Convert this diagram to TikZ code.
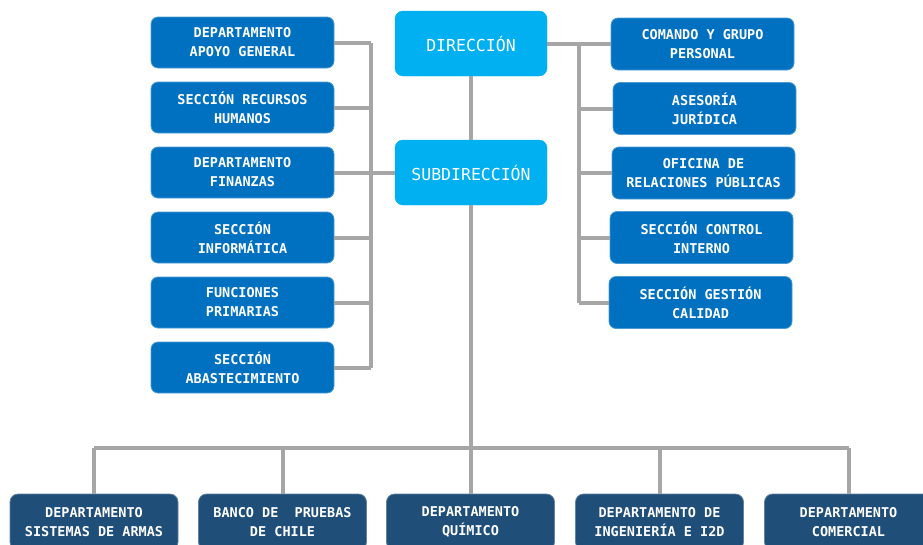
\documentclass[tikz,border=0pt]{standalone}
\usepackage{fontspec}
\setmainfont{DejaVu Sans Mono}
\newfontfamily\djm{DejaVu Sans Mono}
\definecolor{boxblue}{HTML}{0070C0}
\definecolor{topblue}{HTML}{00B0F0}
\definecolor{darkblue}{HTML}{1F4E79}
\definecolor{linegray}{HTML}{A6A6A6}
\tikzset{
  unit/.style={rounded corners=7pt, fill=boxblue, draw=boxblue!70!white, line width=0.8pt,
    text=white, align=center, minimum width=183pt, minimum height=51pt, inner sep=0pt,
    font=\djm\bfseries\fontsize{13.5}{19}\selectfont},
  head/.style={rounded corners=8pt, fill=topblue, draw=topblue, text=white, align=center,
    minimum width=152pt, minimum height=65pt, inner sep=0pt,
    font=\djm\fontsize{16.5}{20}\selectfont},
  dept/.style={rounded corners=8pt, fill=darkblue, draw=darkblue!70!white, line width=0.8pt,
    text=white, align=center, minimum width=168pt, minimum height=56pt, inner sep=0pt,
    font=\djm\bfseries\fontsize{13.5}{18.5}\selectfont},
  link/.style={draw=linegray, line width=4pt}
}
\begin{document}
\begin{tikzpicture}[x=1pt,y=-1pt]
\useasboundingbox (0,0) rectangle (923,544);
\coordinate (lv1) at (371,42.5);
\coordinate (lv6) at (371,367.5);
\coordinate (rv1) at (579,44);
\coordinate (rv5) at (579,302.5);
\coordinate (bus) at (471,448);
\coordinate (busL) at (94,448);
\coordinate (busR) at (848.5,448);

% left boxes
\node[unit] (l1) at (242.5,42.5) {DEPARTAMENTO\\APOYO GENERAL};
\node[unit] (l2) at (242.5,107.5) {SECCIÓN RECURSOS\\HUMANOS};
\node[unit] (l3) at (242.5,172.5) {DEPARTAMENTO\\FINANZAS};
\node[unit] (l4) at (242.5,237.5) {SECCIÓN\\INFORMÁTICA};
\node[unit] (l5) at (242.5,302.5) {FUNCIONES\\PRIMARIAS};
\node[unit] (l6) at (242.5,367.5) {SECCIÓN\\ABASTECIMIENTO};

% heads
\node[head] (dir) at (471,43.5) {DIRECCIÓN};
\node[head] (sub) at (471,172.5) {SUBDIRECCIÓN};

% right boxes
\node[unit, minimum height=52pt] (r1) at (702.5,44) {COMANDO Y GRUPO\\PERSONAL};
\node[unit, minimum height=52pt] (r2) at (704.5,108.5) {ASESORÍA\\JURÍDICA};
\node[unit, minimum height=52pt] (r3) at (703.5,173) {OFICINA DE\\RELACIONES PÚBLICAS};
\node[unit, minimum height=52pt] (r4) at (701.5,237.5) {SECCIÓN CONTROL\\INTERNO};
\node[unit, minimum height=52pt] (r5) at (700.5,302.5) {SECCIÓN GESTIÓN\\CALIDAD};

% bottom departments
\node[dept] (d1) at (94,522) {DEPARTAMENTO\\SISTEMAS DE ARMAS};
\node[dept] (d2) at (282.5,522) {BANCO DE\ \ PRUEBAS\\DE CHILE};
\node[dept] (d3) at (470.5,522) {DEPARTAMENTO\\QUÍMICO};
\node[dept] (d4) at (659.5,522) {DEPARTAMENTO DE\\INGENIERÍA E I2D};
\node[dept] (d5) at (848.5,522) {DEPARTAMENTO\\COMERCIAL};

% left tree
\draw[link] (lv1) -- (lv6);
\foreach \n in {l1,l2,l3,l4,l5,l6}{\draw[link] (\n.east) -- (\n.east -| lv1);}
\draw[link] (sub.west) -- (sub.west -| lv1);
% vertical spine
\draw[link] (dir.south) -- (sub.north);
\draw[link] (sub.south) -- (bus);
% right tree
\draw[link] (dir.east |- rv1) -- (r1.west);
\draw[link] (rv1) -- (rv5);
\foreach \n in {r2,r3,r4,r5}{\draw[link] (\n.west -| rv1) -- (\n.west);}
% bottom bus
\draw[link] (busL) -- (busR);
\foreach \n in {d1,d2,d3,d4,d5}{\draw[link] (\n.north |- bus) -- (\n.north);}
\end{tikzpicture}
\end{document}
